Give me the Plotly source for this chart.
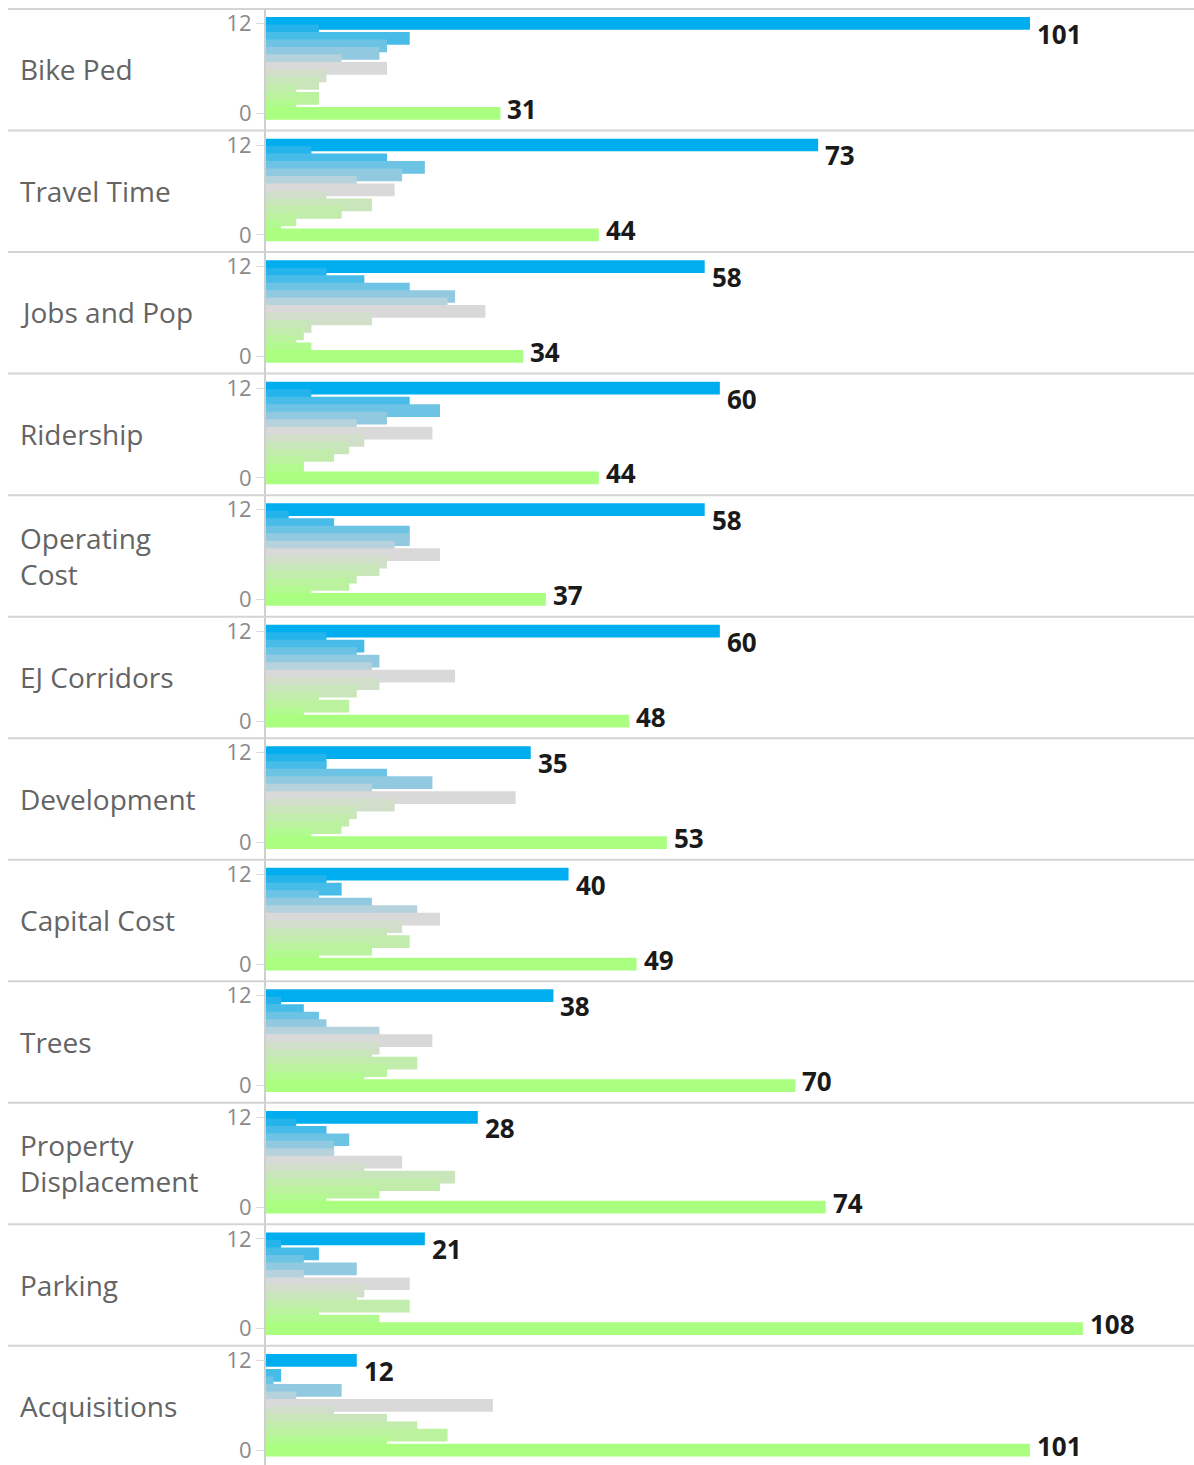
import plotly.graph_objects as go
from plotly.subplots import make_subplots

# ---------------- data ----------------
categories = ["Bike Ped", "Travel Time", "Jobs and Pop", "Ridership", "Operating Cost",
              "EJ Corridors", "Development", "Capital Cost", "Trees",
              "Property Displacement", "Parking", "Acquisitions"]
category_labels = ["Bike Ped", "Travel Time", "Jobs and Pop", "Ridership", "Operating<br>Cost",
                   "EJ Corridors", "Development", "Capital Cost", "Trees",
                   "Property<br>Displacement", "Parking", "Acquisitions"]
levels = list(range(13))          # score 0 .. 12
tick_values = [0, 12]
tick_labels = ["0", "12"]

# counts per score level 0..12
bike_ped              = [31, 4, 7, 4, 7, 8, 16, 10, 15, 16, 19, 7, 101]
travel_time           = [44, 2, 4, 10, 14, 8, 17, 12, 18, 21, 16, 6, 73]
jobs_and_pop          = [34, 6, 4, 5, 6, 14, 29, 24, 25, 19, 13, 8, 58]
ridership             = [44, 5, 5, 9, 11, 13, 22, 12, 16, 23, 19, 6, 60]
operating_cost        = [37, 6, 11, 12, 15, 16, 23, 17, 19, 19, 9, 3, 58]
ej_corridors          = [48, 5, 11, 7, 12, 15, 25, 14, 15, 12, 13, 8, 60]
development           = [53, 6, 10, 11, 12, 17, 33, 14, 22, 16, 8, 8, 35]
capital_cost          = [49, 7, 14, 19, 16, 18, 23, 20, 14, 7, 10, 8, 40]
trees                 = [70, 13, 16, 20, 14, 15, 22, 15, 8, 7, 5, 2, 38]
property_displacement = [74, 8, 15, 23, 25, 13, 18, 9, 9, 11, 8, 4, 28]
parking               = [108, 15, 7, 19, 12, 13, 19, 5, 12, 5, 7, 2, 21]
acquisitions          = [101, 16, 24, 20, 16, 9, 30, 4, 10, 1, 2, 0, 12]

series = [bike_ped, travel_time, jobs_and_pop, ridership, operating_cost, ej_corridors,
          development, capital_cost, trees, property_displacement, parking, acquisitions]

# ---------------- style ----------------
PAGE_W, PAGE_H = 1194, 1465
PANEL_TOP0 = 7.0
PANEL_H = 121.7
PX_PER_Y = 7.5
TOP_PAD_PX = 14.5
PLOT_LEFT_PX = 266
PX_PER_X = 7.564
X_MAX = (PAGE_W - PLOT_LEFT_PX) / PX_PER_X

GREEN = (170, 255, 128)
GREY = (217, 217, 217)
BLUE = (0, 173, 239)

VALUE_FONT = dict(family="Open Sans, sans-serif", size=26, color="#1a1a1a")


def mix(a, b, t):
    return "rgb(%d,%d,%d)" % tuple(round(a[i] + (b[i] - a[i]) * t) for i in range(3))


def level_color(n):
    if n <= 6:
        return mix(GREEN, GREY, n / 6)
    return mix(GREY, BLUE, (n - 6) / 6)


colors = [level_color(n) for n in levels]

n_panels = len(categories)
fig = make_subplots(rows=n_panels, cols=1, shared_xaxes=True, vertical_spacing=0)

draw_order = levels[::-1]  # 12 first, 0 last (lower scores drawn on top)

annotations = []
shapes = []
for i, vals in enumerate(series):
    fig.add_trace(
        go.Bar(
            x=[vals[n] for n in draw_order],
            y=draw_order,
            orientation="h",
            width=1.7,
            marker=dict(color=[colors[n] for n in draw_order], line=dict(width=0)),
            hoverinfo="skip",
            showlegend=False,
        ),
        row=i + 1, col=1,
    )
    xref = "x" if i == 0 else f"x{i + 1}"
    yref = "y" if i == 0 else f"y{i + 1}"
    # value labels for the two extreme scores
    annotations.append(dict(x=vals[12], y=12 - 1.4, xref=xref, yref=yref, text=f"<b>{vals[12]}</b>",
                            showarrow=False, xanchor="left", yanchor="middle", xshift=5,
                            font=VALUE_FONT))
    annotations.append(dict(x=vals[0], y=0.6, xref=xref, yref=yref, text=f"<b>{vals[0]}</b>",
                            showarrow=False, xanchor="left", yanchor="middle", xshift=5,
                            font=VALUE_FONT))

    top_px = PANEL_TOP0 + PANEL_H * i
    bot_px = min(top_px + PANEL_H, PAGE_H)
    dom = [1 - bot_px / PAGE_H, 1 - top_px / PAGE_H]
    y_top = 12 + TOP_PAD_PX / PX_PER_Y
    y_bot = y_top - (bot_px - top_px) / PX_PER_Y
    ykey = "yaxis" if i == 0 else f"yaxis{i + 1}"
    xkey = "xaxis" if i == 0 else f"xaxis{i + 1}"
    fig.layout[ykey].update(domain=dom, range=[y_bot, y_top])
    fig.layout[xkey].update(domain=[PLOT_LEFT_PX / PAGE_W, 1], range=[0, X_MAX])

    # category label
    annotations.append(dict(x=18 / PAGE_W, y=1 - (top_px + 60.5) / PAGE_H, xref="paper", yref="paper",
                            text=category_labels[i], showarrow=False, xanchor="left", yanchor="middle",
                            align="left",
                            font=dict(family="Open Sans, sans-serif", size=28, color="#646464")))
    # separator line
    shapes.append(dict(type="line", xref="paper", yref="paper", x0=8 / PAGE_W, x1=1,
                       y0=1 - top_px / PAGE_H, y1=1 - top_px / PAGE_H,
                       line=dict(color="#d4d4d4", width=2)))

fig.update_xaxes(showticklabels=False, showgrid=False, zeroline=False, showline=False, ticks="")
fig.update_yaxes(tickvals=tick_values, ticktext=tick_labels, ticks="outside", ticklen=8,
                 tickcolor="#dcdcdc", tickwidth=1, showgrid=False, zeroline=False,
                 showline=True, linecolor="#cfcfcf", linewidth=2,
                 tickfont=dict(family="Open Sans, sans-serif", size=22, color="#8a8a8a"))

fig.update_layout(
    width=PAGE_W, height=PAGE_H,
    margin=dict(l=0, r=0, t=0, b=0),
    paper_bgcolor="white", plot_bgcolor="white",
    showlegend=False,
    annotations=annotations,
    shapes=shapes,
)

fig.write_html("out.html", config={"displayModeBar": False},
               post_script="document.body.style.margin='0px';")
